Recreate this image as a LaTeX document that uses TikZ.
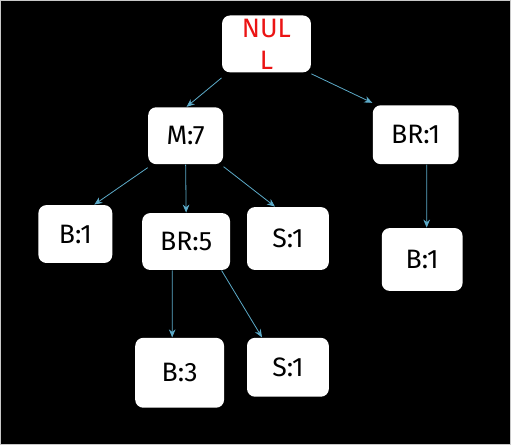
\documentclass[tikz,border=0pt]{standalone}
\usepackage{fontspec}
\setmainfont{Fira Sans}
\usetikzlibrary{arrows.meta}
\definecolor{linkblue}{RGB}{92,170,200}
\definecolor{nullred}{RGB}{235,20,20}
\tikzset{every picture/.style={line width=0.75pt}}

\begin{document}
\begin{tikzpicture}[x=0.75pt,y=0.75pt,yscale=-1,xscale=1,
  box/.style={fill=white,rounded corners=6pt,inner sep=0pt,font=\fontsize{20}{24}\selectfont},
  link/.style={draw=linkblue,line width=0.6pt,-{Stealth[length=6pt,width=5pt]}}]
%background
\draw [fill=black,draw={rgb,255:red,200;green,200;blue,200}] (0,0) rectangle (511,445);

%Rounded Rects
\node [box,minimum width=66.75pt,minimum height=42.75pt,text=nullred,align=center] (null) at (266.5,43.5) {NUL\\L};
\node [box,minimum width=56.25pt,minimum height=42.75pt] (m7) at (185.5,135.5) {M:7};
\node [box,minimum width=64.5pt,minimum height=44.25pt] (br1) at (416,134.5) {BR:1};
\node [box,minimum width=55.5pt,minimum height=43.5pt] (b1a) at (75,234) {B:1};
\node [box,minimum width=66pt,minimum height=42.75pt] (br5) at (186,241.5) {BR:5};
\node [box,minimum width=61.5pt,minimum height=47.25pt] (s1a) at (288,238.5) {S:1};
\node [box,minimum width=60.75pt,minimum height=47.25pt] (b1b) at (422.5,259.5) {B:1};
\node [box,minimum width=66.75pt,minimum height=52.5pt] (b3) at (179.5,373) {B:3};
\node [box,minimum width=61.5pt,minimum height=44.25pt] (s1b) at (288,367.5) {S:1};

%Arrows
\draw [link] ([yshift=3.75pt]null.south west) -- ([xshift=0.75pt]m7.north);
\draw [link] ([yshift=0.75pt]null.south east) -- ([yshift=-1.5pt]br1.north west);
\draw [link] ([yshift=2.25pt]m7.south west) -- ([xshift=14.25pt]b1a.north);
\draw [link] (m7.south) -- (br5.north);
\draw [link] ([yshift=1.5pt]m7.south east) -- ([xshift=-9.75pt]s1a.north);
\draw [link] ([xshift=8.25pt]br1.south) -- ([xshift=3.4pt]b1b.north);
\draw [link] ([xshift=-10.5pt]br5.south) -- ([xshift=-5.6pt]b3.north);
\draw [link] ([xshift=-6.75pt]br5.south east) -- ([xshift=-19.5pt]s1b.north);

\end{tikzpicture}
\end{document}
